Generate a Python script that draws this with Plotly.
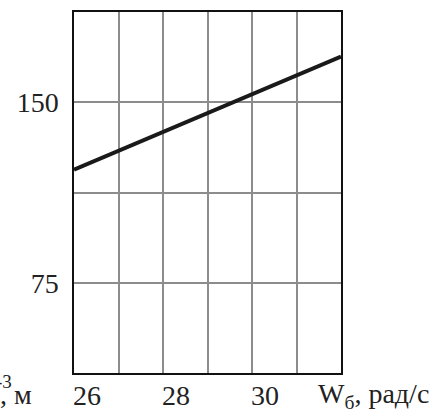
import plotly.graph_objects as go

# Data
speed = [26, 32]            # Wб, рад/с
value = [122, 169]          # ·10^-3, м
x_ticks = [26, 28, 30]
x_tick_text = ["26", "28", "30"]
y_ticks = [75, 150]
y_tick_text = ["75", "150"]

FONT = "Liberation Serif"

fig = go.Figure()
fig.add_trace(go.Scatter(x=speed, y=value, mode="lines",
                         line=dict(color="#1a1a1a", width=4),
                         hoverinfo="skip", showlegend=False))

fig.update_layout(
    width=432, height=416,
    margin=dict(l=74, r=91, t=12, b=43),
    paper_bgcolor="white", plot_bgcolor="white",
    font=dict(family=FONT, size=28, color="#222222"),
    xaxis=dict(range=[26, 32], tickvals=x_ticks, ticktext=x_tick_text,
               showgrid=True, gridcolor="#8c8c8c", gridwidth=1.5,
               minor=dict(dtick=1, tick0=26, showgrid=True,
                          gridcolor="#8c8c8c", gridwidth=1.5),
               showline=True, mirror=True, linecolor="#111111", linewidth=1.5,
               ticks="", zeroline=False, ticklabelshift=13, ticklabelstandoff=-3,
               automargin=False, fixedrange=True),
    yaxis=dict(range=[37.5, 187.5], tickvals=y_ticks, ticktext=y_tick_text,
               showgrid=True, gridcolor="#8c8c8c", gridwidth=1.5,
               minor=dict(dtick=37.5, tick0=37.5, showgrid=True,
                          gridcolor="#8c8c8c", gridwidth=1.5),
               showline=True, mirror=True, linecolor="#111111", linewidth=1.5,
               ticks="", zeroline=False, ticklabelstandoff=8,
               automargin=False, fixedrange=True),
)

fig.add_annotation(text="W<sub>б</sub>, рад/с", xref="paper", yref="paper",
                   x=(431 - 74) / 267, y=-(395 - 373) / 361,
                   xanchor="right", yanchor="middle", showarrow=False,
                   font=dict(family=FONT, size=28, color="#222222"))
fig.add_annotation(text="-3", xref="paper", yref="paper",
                   x=(14 - 74) / 267, y=-(381 - 373) / 361,
                   xanchor="right", yanchor="middle", showarrow=False,
                   font=dict(family=FONT, size=19, color="#222222"))
fig.add_annotation(text=", м", xref="paper", yref="paper",
                   x=(34 - 74) / 267, y=-(394 - 373) / 361,
                   xanchor="right", yanchor="middle", showarrow=False,
                   font=dict(family=FONT, size=28, color="#222222"))

fig.write_html("out.html",
               config={"responsive": False, "displayModeBar": False},
               post_script="document.body.style.margin='0';"
                           "document.body.style.overflow='hidden';")
